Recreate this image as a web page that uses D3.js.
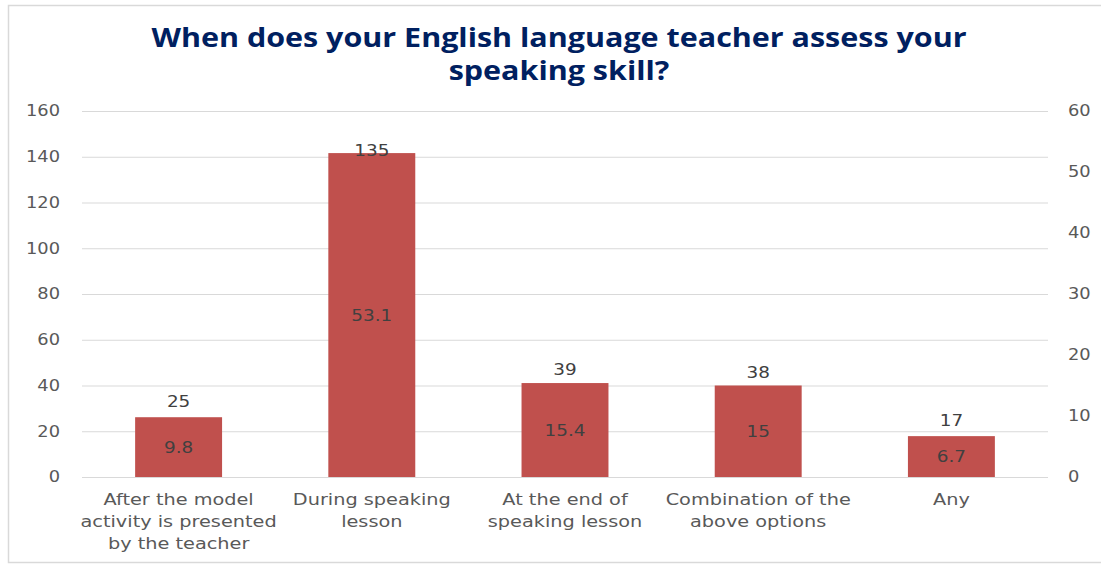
<!DOCTYPE html>
<html>
<head>
<meta charset="utf-8">
<script src="https://cdn.jsdelivr.net/npm/d3@7"></script>
<style>
  body { margin: 0; background: #fff; }
  text { font-family: "DejaVu Sans", sans-serif; }
</style>
</head>
<body>
<svg id="chart" width="1101" height="565"></svg>
<script>
// data
var categories = [
  ["After the model", "activity is presented", "by the teacher"],
  ["During speaking", "lesson"],
  ["At the end of", "speaking lesson"],
  ["Combination of the", "above options"],
  ["Any"]
];
var counts = [25, 135, 39, 38, 17];
var percents = [9.8, 53.1, 15.4, 15, 6.7];
var leftTicks = [0, 20, 40, 60, 80, 100, 120, 140, 160];
var rightTicks = [0, 10, 20, 30, 40, 50, 60];
var titleLines = ["When does your English language teacher assess your", "speaking skill?"];

var svg = d3.select("#chart");

// the original picture is a bit stretched sideways, so text is widened too
function stretch(sel, sx) {
    sel.each(function() {
        var t = d3.select(this);
        var tx = +t.attr("x") || 0;
        var ty = +t.attr("y") || 0;
        t.attr("x", 0).attr("y", 0)
         .attr("transform", "translate(" + tx + "," + ty + ") scale(" + sx + ",1)");
    });
}

// chart border
svg.append("rect")
    .attr("x", 8.5).attr("y", 5.5)
    .attr("width", 1120).attr("height", 557)
    .attr("fill", "#fff")
    .attr("stroke", "#d9d9d9")
    .attr("stroke-width", 1.5);

var plot = {left: 82, right: 1048, top: 111, bottom: 477};

var x = d3.scaleBand()
    .domain(d3.range(categories.length))
    .range([plot.left, plot.right])
    .paddingInner(0.55)
    .paddingOuter(0.275);

var yLeft = d3.scaleLinear().domain([0, 160]).range([plot.bottom, plot.top]);
var yRight = d3.scaleLinear().domain([0, 60]).range([plot.bottom, plot.top]);

// title
var title = svg.append("g").selectAll("text")
    .data(titleLines)
    .join("text")
    .attr("x", 559)
    .attr("y", function(d, i) { return 47 + i * 33; })
    .attr("text-anchor", "middle")
    .style("font-family", "'Open Sans', sans-serif")
    .style("font-weight", "bold")
    .style("font-size", "26.5px")
    .attr("fill", "#002060")
    .text(function(d) { return d; });
stretch(title, 1.15);

// gridlines + left axis
var gridAxis = d3.axisLeft(yLeft).tickValues(leftTicks).tickSize(0).tickPadding(22);
var gl = svg.append("g")
    .attr("transform", "translate(" + plot.left + ",0)")
    .call(gridAxis);
gl.select(".domain").remove();
gl.selectAll(".tick line")
    .attr("x2", plot.right - plot.left)
    .attr("stroke", "#d9d9d9").attr("stroke-width", 1.2);
gl.selectAll(".tick text")
    .style("font-size", "15.5px")
    .attr("fill", "#595959");
stretch(gl.selectAll(".tick text"), 1.15);

// right axis
var rAxis = d3.axisRight(yRight).tickValues(rightTicks).tickSize(0).tickPadding(20);
var rl = svg.append("g")
    .attr("transform", "translate(" + plot.right + ",0)")
    .call(rAxis);
rl.select(".domain").remove();
rl.selectAll(".tick text")
    .style("font-size", "15.5px")
    .attr("fill", "#595959");
stretch(rl.selectAll(".tick text"), 1.15);

// bars (percent on right axis)
svg.append("g").selectAll("rect")
    .data(percents)
    .join("rect")
    .attr("x", function(d, i) { return x(i); })
    .attr("y", function(d) { return yRight(d); })
    .attr("width", x.bandwidth())
    .attr("height", function(d) { return plot.bottom - yRight(d); })
    .attr("fill", "#c0504d");

// percent labels inside bars
var pLab = svg.append("g").selectAll("text")
    .data(percents)
    .join("text")
    .attr("x", function(d, i) { return x(i) + x.bandwidth() / 2; })
    .attr("y", function(d) { return (yRight(d) + plot.bottom) / 2; })
    .attr("dy", "0.35em")
    .attr("text-anchor", "middle")
    .style("font-size", "16px")
    .attr("fill", "#404040")
    .text(function(d) { return d; });
stretch(pLab, 1.15);

// count labels, outside end of the count series (left axis)
var cLab = svg.append("g").selectAll("text")
    .data(counts)
    .join("text")
    .attr("x", function(d, i) { return x(i) + x.bandwidth() / 2; })
    .attr("y", function(d) { return yLeft(d) - 18; })
    .attr("dy", "0.35em")
    .attr("text-anchor", "middle")
    .style("font-size", "16px")
    .attr("fill", "#404040")
    .text(function(d) { return d; });
stretch(cLab, 1.15);

// category labels
var cat = svg.append("g").selectAll("text")
    .data(categories)
    .join("text")
    .attr("x", function(d, i) { return x(i) + x.bandwidth() / 2; })
    .attr("y", 505)
    .attr("text-anchor", "middle")
    .style("font-size", "16.5px")
    .attr("fill", "#595959");
cat.selectAll("tspan")
    .data(function(d) { return d; })
    .join("tspan")
    .attr("x", 0)
    .attr("dy", function(d, i) { return i === 0 ? 0 : 22; })
    .text(function(d) { return d; });
stretch(cat, 1.17);
</script>
</body>
</html>
